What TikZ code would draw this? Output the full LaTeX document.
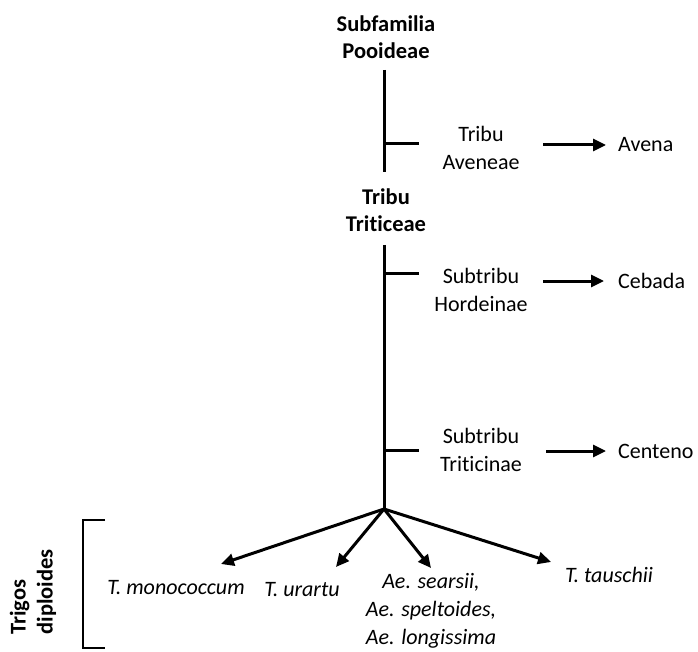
\documentclass[tikz,border=0pt]{standalone}
\usepackage{fontspec}
\setmainfont{Carlito}[Ligatures=NoCommon]
\usetikzlibrary{arrows.meta}
\tikzset{
  txt/.style={font=\fontsize{22}{27.5}\selectfont, align=center, inner sep=0pt},
  btxt/.style={txt, font=\fontsize{22.5}{27}\selectfont\bfseries},
  itxt/.style={txt, font=\fontsize{22}{28}\selectfont\itshape},
  ln/.style={line width=3pt},
  arr/.style={line width=3pt, -{Triangle[length=13pt,width=12pt]}}
}
\begin{document}
\begin{tikzpicture}[x=1pt,y=-1pt]
\fill[white] (0,0) rectangle (698,652);
\useasboundingbox (0,0) rectangle (698,652);

% headings
\node[btxt] (subfam) at (386,37) {Subfamilia\\Pooideae};
\node[btxt] (triticeae) at (386,210) {Tribu\\Triticeae};

% trunk 1
\coordinate (t1top) at (384,70);
\coordinate (t1bot) at (384,172);
\coordinate (t1j) at (384,144);
\coordinate (t1e) at (419,144);
\draw[ln] (t1top) -- (t1bot);
\draw[ln] (t1j) -- (t1e);

% trunk 2
\coordinate (t2top) at (384,245);
\coordinate (hub) at (384,509);
\coordinate (t2j) at (384,273);
\coordinate (t2e) at (419,273);
\coordinate (t3j) at (384,450);
\coordinate (t3e) at (419,450);
\draw[ln] (t2top) -- (hub);
\draw[ln] (t2j) -- (t2e);
\draw[ln] (t3j) -- (t3e);

% right column
\node[txt] (aveneae) at (481,148) {Tribu\\Aveneae};
\node[txt] (hordeinae) at (481,290) {Subtribu\\Hordeinae};
\node[txt] (triticinae) at (481,450) {Subtribu\\Triticinae};

\node[txt, anchor=west] (avena) at (618,145) {Avena};
\node[txt, anchor=west] (cebada) at (618,281) {Cebada};
\node[txt, anchor=west] (centeno) at (618,451) {Centeno};

\coordinate (a1s) at (543,145); \coordinate (a1e) at (606,145);
\coordinate (a2s) at (543,281); \coordinate (a2e) at (604,281);
\coordinate (a3s) at (546,451); \coordinate (a3e) at (606,451);
\draw[arr] (a1s) -- (a1e);
\draw[arr] (a2s) -- (a2e);
\draw[arr] (a3s) -- (a3e);

% diploid wheats
\node[itxt] (mono) at (176,588) {T. monococcum};
\node[itxt] (urartu) at (302,590) {T. urartu};
\node[itxt] (aegi) at (431,611) {Ae. searsii,\\Ae. speltoides,\\Ae. longissima};
\node[itxt] (tausch) at (609,575) {T. tauschii};

\coordinate (m1) at (221,564);
\coordinate (m2) at (336,567);
\coordinate (m3) at (431,568);
\coordinate (m4) at (551,562);
\draw[arr] (hub) -- (m1);
\draw[arr] (hub) -- (m2);
\draw[arr] (hub) -- (m3);
\draw[arr] (hub) -- (m4);

% bracket
\coordinate (b1) at (105,520);
\coordinate (b2) at (83,520);
\coordinate (b3) at (83,648);
\coordinate (b4) at (105,648);
\draw[line width=2.8pt] (b1) -- (b2) -- (b3) -- (b4);
\node[btxt, align=left, rotate=90] (trigos) at (33,592) {Trigos\\diploides};
\end{tikzpicture}
\end{document}
